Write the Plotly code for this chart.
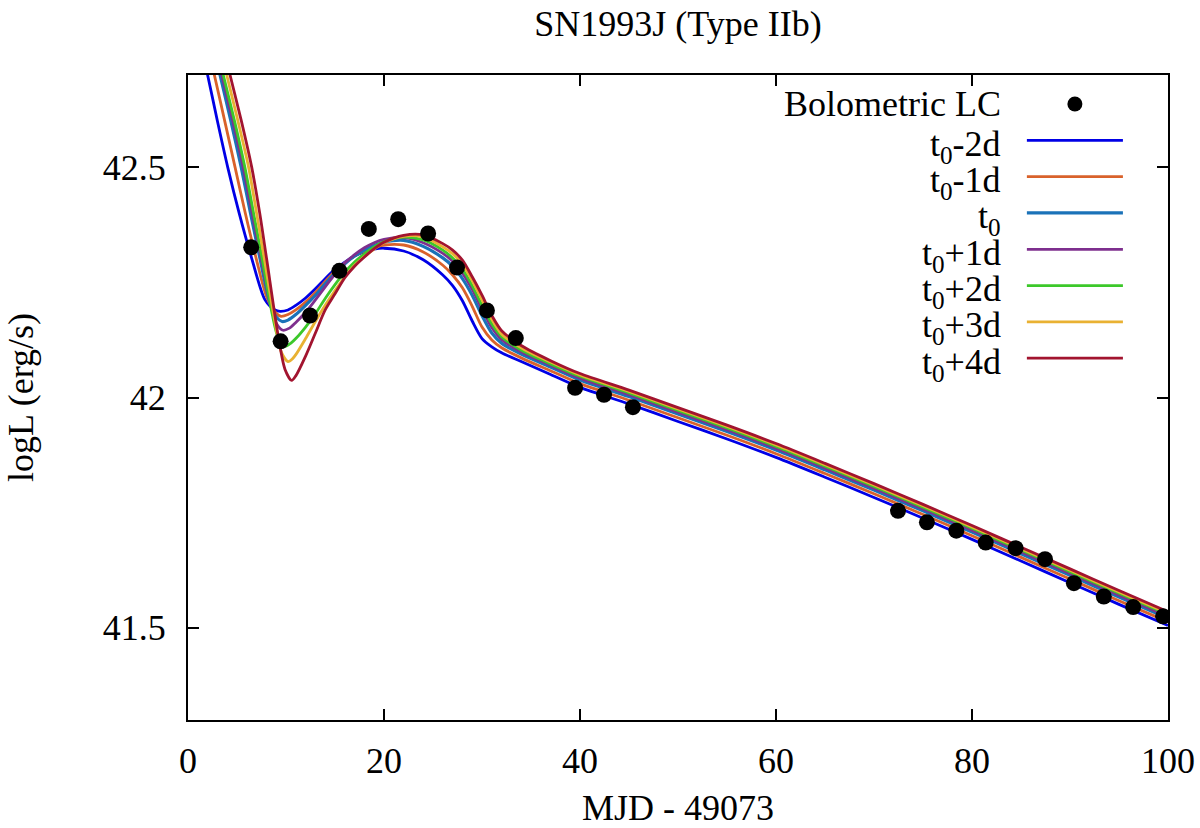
import plotly.graph_objects as go

FONT = "Liberation Serif"
FS = 36

# ---- observed bolometric light curve ----
obs_x = [6.45, 9.45, 12.45, 15.45, 18.45, 21.45, 24.5, 27.45, 30.5, 33.45,
         39.5, 42.45, 45.4, 72.45, 75.4, 78.4, 81.4, 84.45, 87.45, 90.4,
         93.45, 96.45, 99.5]
obs_y = [42.326, 42.122, 42.178, 42.275, 42.366, 42.387, 42.356, 42.282, 42.189, 42.129,
         42.021, 42.006, 41.979, 41.754, 41.729, 41.711, 41.685, 41.673, 41.649, 41.597,
         41.568, 41.545, 41.525]

# ---- common sample days for the later part of the model curves ----
grid_x = [11, 12, 13, 14, 15, 16, 17, 18, 19, 20, 22, 24, 26, 27, 28, 29, 30, 31, 32,
          34, 37, 40, 45, 50, 55, 60, 65, 70, 75, 80, 85, 90, 95, 100]

# early-phase samples (descent + dip) for each model
m2_early_x = [0.35, 2.0, 3.0, 4.05, 5.22, 6.53, 7.86, 8.88, 9.4, 10.2]
m2_early_y = [42.85, 42.70, 42.60, 42.50, 42.40, 42.30, 42.212, 42.19, 42.187, 42.19]
m1_early_x = [1.04, 2.69, 3.75, 4.8, 5.85, 6.98, 8.0, 8.9, 9.5, 10.2]
m1_early_y = [42.85, 42.70, 42.60, 42.50, 42.40, 42.30, 42.22, 42.185, 42.176, 42.18]
m0_early_x = [1.62, 3.27, 4.38, 5.43, 6.38, 7.36, 8.3, 9.0, 9.6, 10.2]
m0_early_y = [42.85, 42.70, 42.60, 42.50, 42.40, 42.30, 42.21, 42.175, 42.165, 42.168]
p1_early_x = [1.8, 3.45, 4.58, 5.63, 6.54, 7.48, 8.5, 9.1, 9.7, 10.3]
p1_early_y = [42.85, 42.70, 42.60, 42.50, 42.40, 42.30, 42.195, 42.158, 42.146, 42.15]
p2_early_x = [1.95, 3.6, 4.75, 5.8, 6.69, 7.58, 8.6, 9.2, 9.9, 10.5]
p2_early_y = [42.85, 42.70, 42.60, 42.50, 42.40, 42.30, 42.18, 42.13, 42.111, 42.118]
p3_early_x = [2.3, 3.95, 5.1, 6.18, 7.0, 7.8, 8.9, 9.5, 10.2, 10.7]
p3_early_y = [42.85, 42.70, 42.60, 42.50, 42.40, 42.30, 42.16, 42.10, 42.078, 42.085]
p4_early_x = [2.64, 4.29, 5.45, 6.5, 7.32, 8.03, 9.21, 9.9, 10.58]
p4_early_y = [42.85, 42.70, 42.60, 42.50, 42.40, 42.30, 42.133, 42.061, 42.037]

# later-phase values on grid_x
m2_late_y = [42.200, 42.216, 42.236, 42.258, 42.278, 42.294, 42.307, 42.316, 42.322, 42.324,
             42.318, 42.299, 42.266, 42.243, 42.210, 42.166, 42.128, 42.110, 42.097,
             42.078, 42.050, 42.022, 41.986, 41.948, 41.910, 41.870, 41.827, 41.783,
             41.738, 41.692, 41.645, 41.598, 41.551, 41.505]
m1_late_y = [42.190, 42.207, 42.228, 42.252, 42.274, 42.292, 42.307, 42.318, 42.326, 42.331,
             42.331, 42.316, 42.287, 42.266, 42.238, 42.198, 42.153, 42.125, 42.108,
             42.086, 42.058, 42.030, 41.994, 41.956, 41.918, 41.878, 41.835, 41.791,
             41.746, 41.700, 41.653, 41.606, 41.559, 41.513]
m0_late_y = [42.180, 42.200, 42.222, 42.247, 42.270, 42.290, 42.307, 42.320, 42.330, 42.337,
             42.341, 42.328, 42.303, 42.285, 42.258, 42.222, 42.178, 42.140, 42.118,
             42.094, 42.066, 42.038, 42.002, 41.964, 41.926, 41.886, 41.843, 41.799,
             41.754, 41.708, 41.661, 41.614, 41.567, 41.521]
p1_late_y = [42.163, 42.185, 42.212, 42.240, 42.268, 42.292, 42.310, 42.325, 42.336, 42.343,
             42.347, 42.336, 42.313, 42.296, 42.270, 42.235, 42.192, 42.152, 42.126,
             42.099, 42.070, 42.042, 42.006, 41.968, 41.930, 41.890, 41.847, 41.803,
             41.758, 41.712, 41.665, 41.618, 41.571, 41.525]
p2_late_y = [42.128, 42.153, 42.182, 42.215, 42.245, 42.272, 42.294, 42.312, 42.327, 42.338,
             42.348, 42.342, 42.320, 42.303, 42.279, 42.243, 42.200, 42.160, 42.132,
             42.103, 42.073, 42.046, 42.010, 41.972, 41.934, 41.894, 41.851, 41.807,
             41.762, 41.716, 41.669, 41.622, 41.575, 41.529]
p3_late_y = [42.093, 42.128, 42.165, 42.200, 42.232, 42.262, 42.287, 42.306, 42.322, 42.336,
             42.350, 42.348, 42.327, 42.312, 42.289, 42.254, 42.212, 42.170, 42.138,
             42.108, 42.077, 42.049, 42.013, 41.975, 41.937, 41.897, 41.854, 41.810,
             41.765, 41.719, 41.672, 41.625, 41.578, 41.532]
p4_late_y = [42.047, 42.090, 42.140, 42.190, 42.225, 42.260, 42.285, 42.305, 42.323, 42.337,
             42.352, 42.353, 42.334, 42.320, 42.298, 42.262, 42.222, 42.178, 42.145,
             42.113, 42.080, 42.052, 42.016, 41.978, 41.940, 41.900, 41.857, 41.813,
             41.768, 41.722, 41.675, 41.628, 41.581, 41.535]

model_names = ["t<sub>0</sub>-2d", "t<sub>0</sub>-1d", "t<sub>0</sub>", "t<sub>0</sub>+1d",
               "t<sub>0</sub>+2d", "t<sub>0</sub>+3d", "t<sub>0</sub>+4d"]
model_colors = ["#0000e6", "#d9622b", "#1a72b8", "#7e2f8e", "#3cc82a", "#e9b132", "#a2142f"]
model_widths = [2.8, 2.8, 3.2, 2.8, 2.8, 2.8, 2.8]
model_early = [(m2_early_x, m2_early_y), (m1_early_x, m1_early_y), (m0_early_x, m0_early_y),
               (p1_early_x, p1_early_y), (p2_early_x, p2_early_y), (p3_early_x, p3_early_y),
               (p4_early_x, p4_early_y)]
model_late = [m2_late_y, m1_late_y, m0_late_y, p1_late_y, p2_late_y, p3_late_y, p4_late_y]

fig = go.Figure()
for name, col, w, (ex, ey), ly in zip(model_names, model_colors, model_widths,
                                      model_early, model_late):
    fig.add_trace(go.Scatter(
        x=ex + grid_x, y=ey + ly, mode="lines", name=name, showlegend=False,
        line=dict(color=col, width=w, shape="spline", smoothing=0.8),
    ))

fig.add_trace(go.Scatter(
    x=obs_x, y=obs_y, mode="markers", name="Bolometric LC", showlegend=False,
    marker=dict(color="black", size=16, line=dict(width=0)),
))

# ---- gnuplot-style key: text on the left, sample on the right ----
key_labels = ["Bolometric LC"] + model_names
key_top = 0.955
key_step = 0.0563
text_right = 0.8316
sample_x0, sample_x1 = 0.856, 0.954
dot_x = 0.905
for i, lab in enumerate(key_labels):
    yy = key_top - i * key_step
    fig.add_annotation(x=text_right, y=yy, xref="paper", yref="paper", text=lab,
                       showarrow=False, xanchor="right", yanchor="middle",
                       font=dict(family=FONT, size=FS, color="black"),
                       yshift=-6 if i > 0 else 0)
    if i == 0:
        fig.add_shape(type="circle", xref="paper", yref="paper",
                      xsizemode="pixel", ysizemode="pixel",
                      xanchor=dot_x, yanchor=yy, x0=-7.5, x1=7.5, y0=-7.5, y1=7.5,
                      fillcolor="black", line=dict(width=0))
    else:
        fig.add_shape(type="line", xref="paper", yref="paper",
                      x0=sample_x0, x1=sample_x1, y0=yy, y1=yy,
                      line=dict(color=model_colors[i - 1], width=model_widths[i - 1]))

axis_common = dict(
    showline=True, linecolor="black", linewidth=2, mirror="allticks",
    ticks="inside", ticklen=11, tickwidth=1.5, tickcolor="black",
    showgrid=False, zeroline=False, automargin=False,
    tickfont=dict(family=FONT, size=FS, color="black"),
)

fig.update_xaxes(range=[0, 100], tickvals=[0, 20, 40, 60, 80, 100],
                 ticklabelstandoff=8,
                 title=dict(text="MJD - 49073", font=dict(family=FONT, size=FS, color="black"),
                            standoff=26),
                 **axis_common)
fig.update_yaxes(range=[41.3, 42.7], tickvals=[41.5, 42, 42.5],
                 ticktext=["41.5", "42", "42.5"],
                 ticklabelstandoff=13,
                 title=dict(text="logL (erg/s)", font=dict(family=FONT, size=FS, color="black"),
                            standoff=58),
                 **axis_common)

fig.update_layout(
    width=1200, height=828,
    margin=dict(l=188, r=32, t=75, b=108, autoexpand=False),
    paper_bgcolor="white", plot_bgcolor="white",
    title=dict(text="SN1993J (Type IIb)", x=0.565, xanchor="center", xref="container",
               y=0.972, yanchor="middle", yref="container",
               font=dict(family=FONT, size=FS, color="black")),
    showlegend=False,
)

fig.write_html("out.html", config={"displayModeBar": False},
               post_script="document.body.style.margin='0';document.body.style.padding='0';"
                           "document.body.style.overflow='hidden';")
